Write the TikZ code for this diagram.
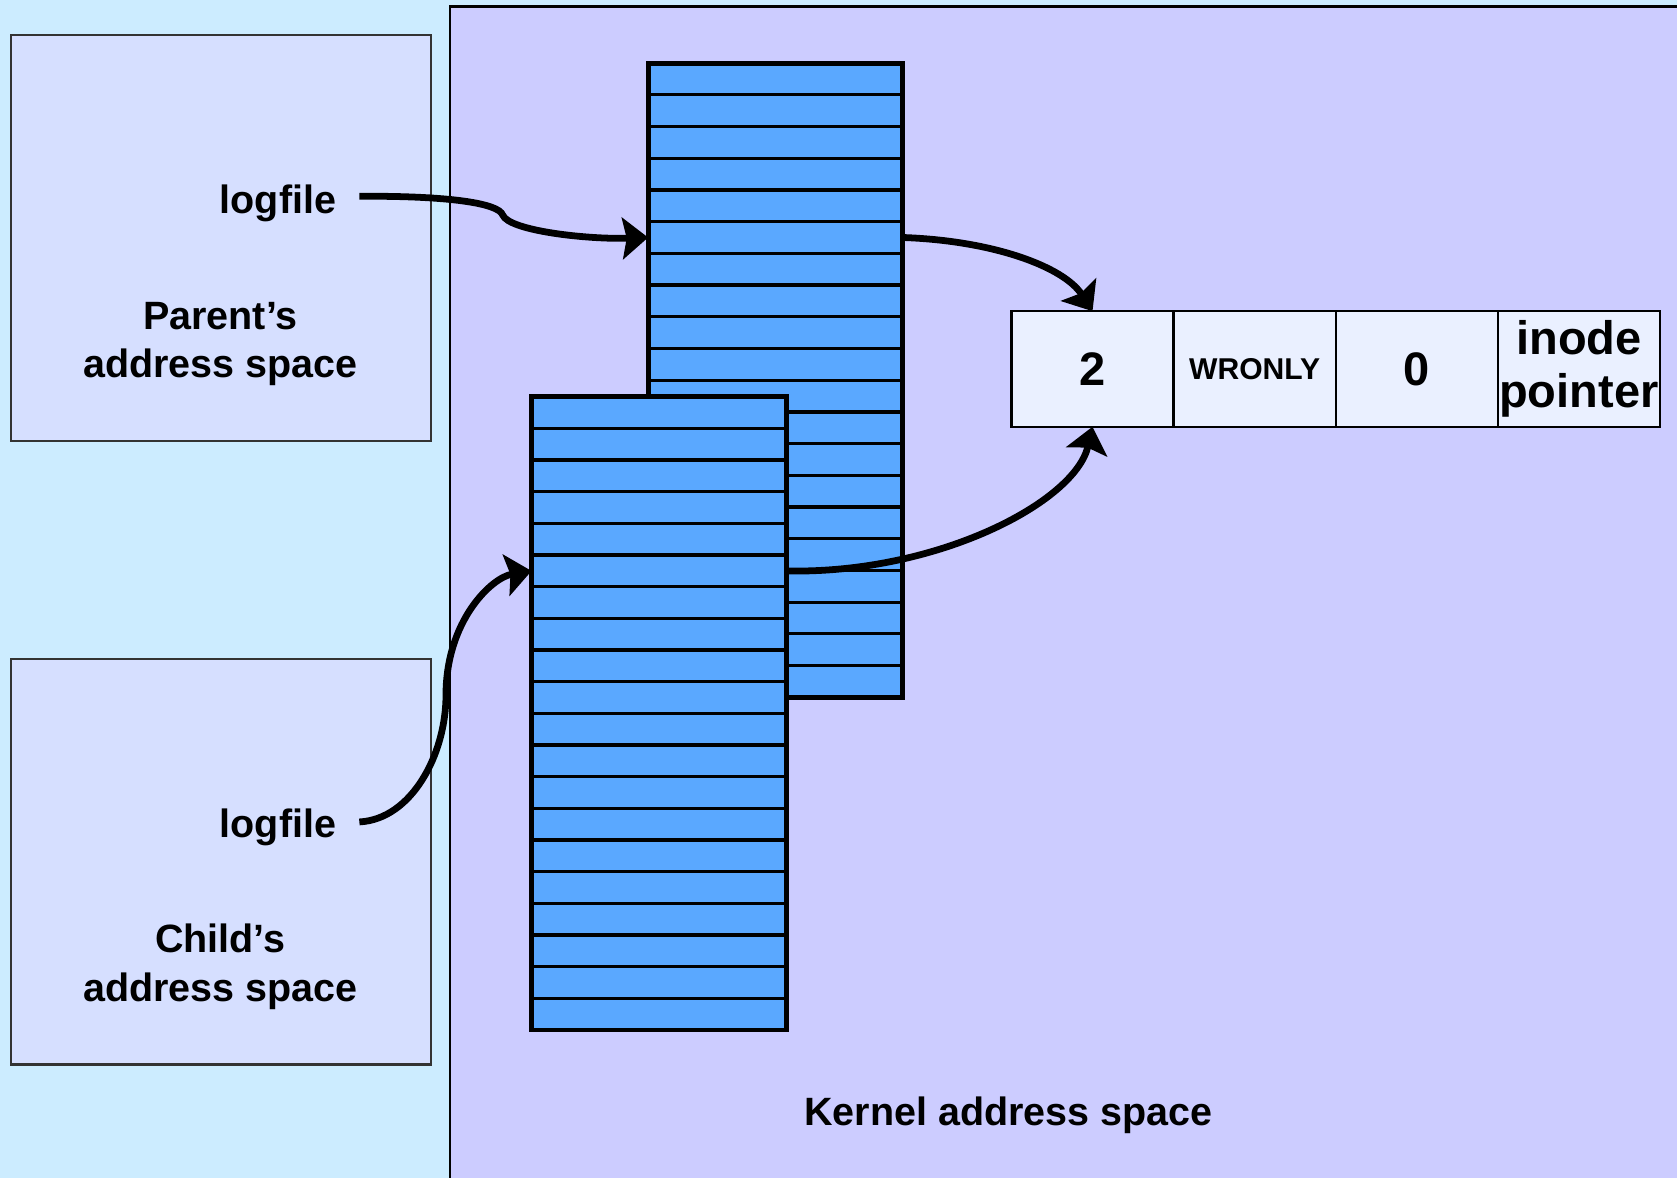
\documentclass[tikz,border=0pt]{standalone}
\usepackage{fontspec}
\setmainfont{Liberation Sans}
\usetikzlibrary{arrows.meta, positioning}
\definecolor{userBg}{HTML}{CCECFF}
\definecolor{kernelBg}{HTML}{CCCCFF}
\definecolor{spaceFill}{HTML}{D6DFFF}
\definecolor{slotBlue}{HTML}{5AA8FF}
\definecolor{entryFill}{HTML}{EAF0FF}

\begin{document}
\begin{tikzpicture}[x=0.01cm, y=-0.01cm,
  spacebox/.style={draw=black!80, fill=spaceFill, line width=0.6pt, minimum width=3.93cm, minimum height=3.79cm, inner sep=0pt, outer sep=0pt},
  lbl/.style={inner sep=0pt, font=\bfseries\fontsize{10.5}{12.8}\selectfont, align=center},
  slot/.style={draw, fill=slotBlue, line width=0.85pt, minimum width=2.38cm, minimum height=0.2965cm, inner sep=0pt, outer sep=0pt},
  tableframe/.style={draw, line width=1.3pt},
  cell/.style={draw, fill=entryFill, line width=0.6pt, minimum width=1.515cm, minimum height=1.08cm, inner sep=0pt, outer sep=0pt, align=center, font=\bfseries\fontsize{12.5}{14.2}\selectfont},
  link/.style={-{Stealth[length=2.4mm, width=3.9mm, inset=0.4mm]}, line width=1.8pt}
]
\useasboundingbox (0,0) rectangle (1568,1101);
\clip (0,0) rectangle (1568,1101);

% user side and kernel side
\fill[userBg] (0,0) rectangle (1568,1101);
\draw[fill=kernelBg, line width=0.6pt] (421,6) rectangle (1600,1130);

\node[spacebox, anchor=north west] (parent) at (10,33) {};
\node[spacebox, anchor=north west] (child) at (10,616) {};

% descriptor tables
\foreach \i in {1,...,20}
  \node[slot, anchor=north west] (p\i) at (606, {59+29.65*(\i-1)}) {};
\draw[tableframe] (p1.north west) rectangle (p20.south east);

\foreach \i in {1,...,20}
  \node[slot, anchor=north west] (c\i) at (497, {371+29.6*(\i-1)}) {};
\draw[tableframe] (c1.north west) rectangle (c20.south east);

% open file entry
\node[cell] (cnt) at (1021.5,345) {2};
\node[cell, right=0pt of cnt, font=\bfseries\fontsize{8}{9}\selectfont] (mode) {WRONLY};
\node[cell, right=0pt of mode] (pos) {0};
\node[cell, right=0pt of pos] (inode) {inode\\pointer};

% labels
\node[lbl, anchor=base east] (plog) at (315,200) {logfile};
\node[lbl] (pname) at (206,322) {Parent’s\\address space};
\node[lbl, anchor=base east] (clog) at (315,783) {logfile};
\node[lbl] (cname) at (206,904) {Child’s\\address space};
\node[lbl, anchor=base] (kname) at (943,1052) {Kernel address space};

% pointers
\draw[link] ([xshift=0.21cm, yshift=0.07cm]plog.east) .. controls (420,183) and (466,190) .. (470,201)
  .. controls (476,216) and (550,224) .. (p6.west);
\draw[link] (p6.east) .. controls (930,225) and (995,250) .. (cnt.north);
\draw[link] ([xshift=0.21cm, yshift=0.05cm]clog.east) .. controls (385,766) and (417,705) .. (417,650)
  .. controls (417,580) and (460,540) .. (c6.west);
\draw[link] (c6.east) .. controls (875,537) and (1005,470) .. (cnt.south);
\end{tikzpicture}
\end{document}
